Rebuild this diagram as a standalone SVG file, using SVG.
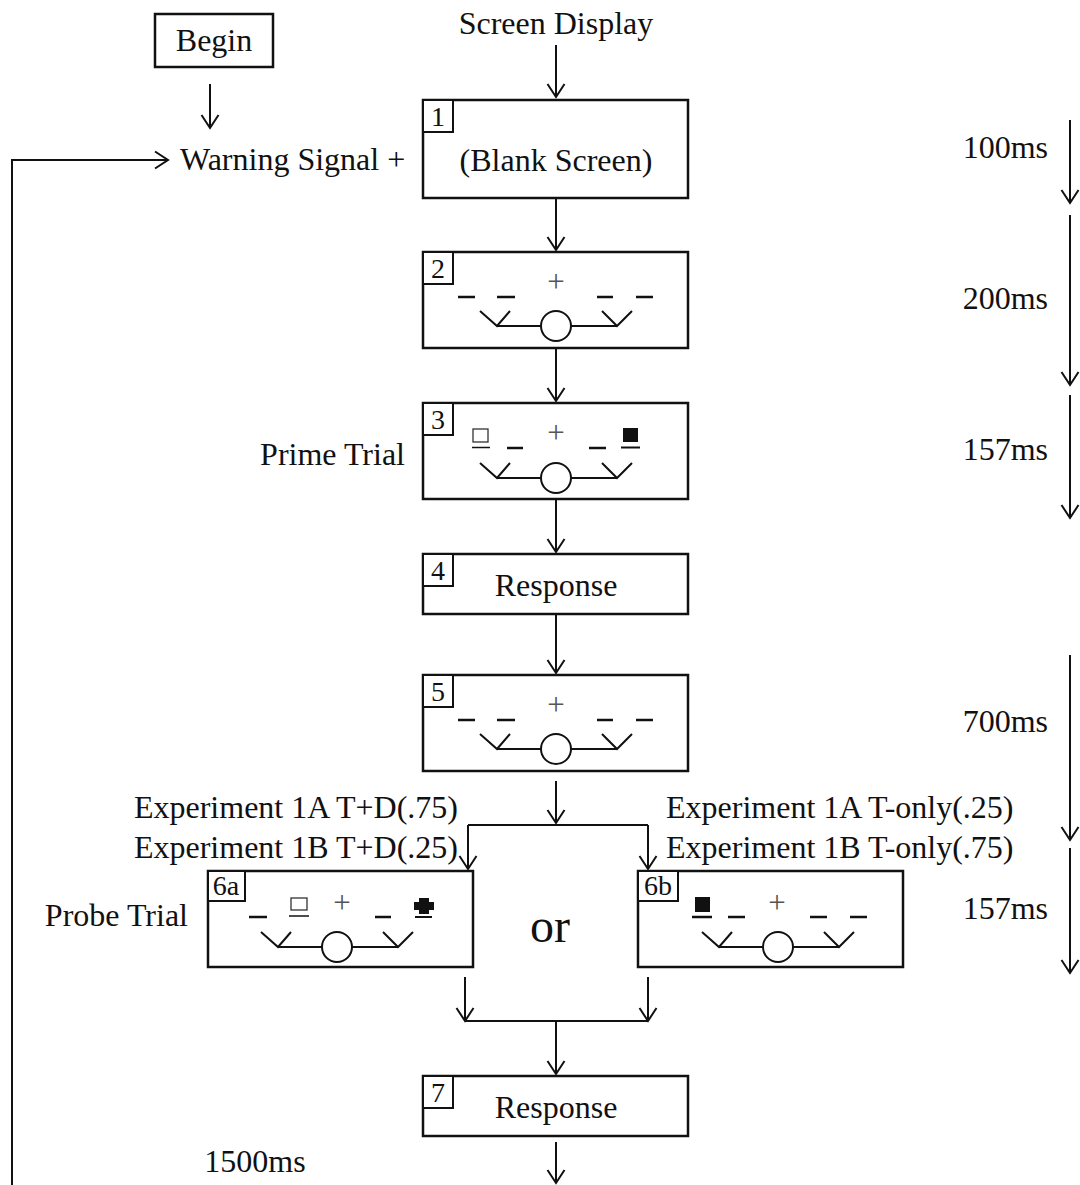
<svg xmlns="http://www.w3.org/2000/svg" width="1080" height="1185" viewBox="0 0 1080 1185">
<defs>
<style>
text{font-family:"Liberation Serif","Times New Roman",serif;fill:#111;}
.t{font-size:32px;}
.n{font-size:28px;}
.pl{font-size:31px;fill:#555;text-anchor:middle;}
.box{fill:#fff;stroke:#111;stroke-width:2.5;}
.lb{fill:#fff;stroke:#111;stroke-width:2;}
.ln{fill:none;stroke:#111;stroke-width:2;}
.ds{stroke:#111;stroke-width:2.5;}
.fl{fill:#111;}
.ho{fill:none;stroke:#333;stroke-width:1.3;}
</style>
<marker id="ah" viewBox="-15 -10 17 20" refX="0" refY="0" markerWidth="17" markerHeight="20" markerUnits="userSpaceOnUse" orient="auto">
<path d="M-13,-8.5 L0,0 L-13,8.5" fill="none" stroke="#111" stroke-width="2"/>
</marker>
<g id="face">
<path class="ln" d="M-76,-15 L-59,0 L-46,-15 M-59,0 H-15 M15,0 H61 M46,-15 L61,0 L76,-15"/>
<circle cx="0" cy="0" r="15" class="ln"/>
</g>
</defs>
<rect width="1080" height="1185" fill="#fff"/>

<g id="connectors">
<path class="ln" d="M556,45 V97" marker-end="url(#ah)"/>
<path class="ln" d="M210,84 V128" marker-end="url(#ah)"/>
<path class="ln" d="M12,1185 V160 H168" marker-end="url(#ah)"/>
<path class="ln" d="M556,198 V250" marker-end="url(#ah)"/>
<path class="ln" d="M556,348 V401" marker-end="url(#ah)"/>
<path class="ln" d="M556,499 V552" marker-end="url(#ah)"/>
<path class="ln" d="M556,614 V673" marker-end="url(#ah)"/>
<path class="ln" d="M556,781 V823"  marker-end="url(#ah)"/>
<path class="ln" d="M468,825 H648"/>
<path class="ln" d="M468,825 V869" marker-end="url(#ah)"/>
<path class="ln" d="M648,825 V869" marker-end="url(#ah)"/>
<path class="ln" d="M465,977 V1021" marker-end="url(#ah)"/>
<path class="ln" d="M648,977 V1021" marker-end="url(#ah)"/>
<path class="ln" d="M465,1021 H648"/>
<path class="ln" d="M556,1021 V1074" marker-end="url(#ah)"/>
<path class="ln" d="M556,1142 V1183" marker-end="url(#ah)"/>
<path class="ln" d="M1070,120 V203" marker-end="url(#ah)"/>
<path class="ln" d="M1070,215 V385" marker-end="url(#ah)"/>
<path class="ln" d="M1070,395 V518" marker-end="url(#ah)"/>
<path class="ln" d="M1070,655 V840" marker-end="url(#ah)"/>
<path class="ln" d="M1070,848 V973" marker-end="url(#ah)"/>
</g>

<g id="labels">
<text class="t" x="556" y="34" text-anchor="middle">Screen Display</text>
<text class="t" x="180" y="170">Warning Signal +</text>
<text class="t" x="405" y="465" text-anchor="end">Prime Trial</text>
<text class="t" x="188" y="926" text-anchor="end">Probe Trial</text>
<text class="t" x="458" y="818" text-anchor="end">Experiment 1A T+D(.75)</text>
<text class="t" x="458" y="858" text-anchor="end">Experiment 1B T+D(.25)</text>
<text class="t" x="666" y="818">Experiment 1A T-only(.25)</text>
<text class="t" x="666" y="858">Experiment 1B T-only(.75)</text>
<text x="550" y="942" text-anchor="middle" font-size="48">or</text>
<text class="t" x="1048" y="158" text-anchor="end">100ms</text>
<text class="t" x="1048" y="309" text-anchor="end">200ms</text>
<text class="t" x="1048" y="460" text-anchor="end">157ms</text>
<text class="t" x="1048" y="732" text-anchor="end">700ms</text>
<text class="t" x="1048" y="919" text-anchor="end">157ms</text>
<text class="t" x="255" y="1172" text-anchor="middle">1500ms</text>
</g>

<g id="begin">
<rect class="box" x="155" y="14" width="118" height="53"/>
<text class="t" x="214" y="51" text-anchor="middle">Begin</text>
</g>

<g id="node1">
<rect class="box" x="423" y="100" width="265" height="98"/>
<rect class="lb" x="423" y="100" width="30" height="32"/>
<text class="n" x="438" y="126" text-anchor="middle">1</text>
<text class="t" x="556" y="171" text-anchor="middle">(Blank Screen)</text>
</g>

<g id="node2">
<rect class="box" x="423" y="252" width="265" height="96"/>
<rect class="lb" x="423" y="252" width="30" height="32"/>
<text class="n" x="438" y="278" text-anchor="middle">2</text>
<text class="pl" x="556" y="292">+</text>
<path class="ds" d="M458,297 H475 M497,297 H515 M597,297 H613 M636,297 H653"/>
<use href="#face" x="556" y="326"/>
</g>

<g id="node3">
<rect class="box" x="423" y="403" width="265" height="96"/>
<rect class="lb" x="423" y="403" width="30" height="32"/>
<text class="n" x="438" y="429" text-anchor="middle">3</text>
<text class="pl" x="556" y="443">+</text>
<rect class="ho" x="473" y="429" width="15" height="13"/>
<path class="ds" d="M472,447.5 H490" style="stroke-width:1.5"/>
<path class="ds" d="M507,448 H523 M589,448 H606"/>
<rect class="fl" x="623" y="428" width="15" height="14"/>
<path class="ds" d="M621,447.5 H640" style="stroke-width:2"/>
<use href="#face" x="556" y="478"/>
</g>

<g id="node4">
<rect class="box" x="423" y="554" width="265" height="60"/>
<rect class="lb" x="423" y="554" width="30" height="32"/>
<text class="n" x="438" y="580" text-anchor="middle">4</text>
<text class="t" x="556" y="596" text-anchor="middle">Response</text>
</g>

<g id="node5">
<rect class="box" x="423" y="675" width="265" height="96"/>
<rect class="lb" x="423" y="675" width="30" height="32"/>
<text class="n" x="438" y="701" text-anchor="middle">5</text>
<text class="pl" x="556" y="715">+</text>
<path class="ds" d="M458,720 H475 M497,720 H515 M597,720 H613 M636,720 H653"/>
<use href="#face" x="556" y="749"/>
</g>

<g id="node6a">
<rect class="box" x="208" y="871" width="265" height="96"/>
<rect class="lb" x="208" y="871" width="37" height="30"/>
<text class="n" x="226" y="895" text-anchor="middle">6a</text>
<text class="pl" x="342" y="913">+</text>
<path class="ds" d="M249,917 H267 M375,917 H391"/>
<rect class="ho" x="291" y="898" width="16" height="12"/>
<path class="ds" d="M289,916 H309" style="stroke-width:1.5"/>
<path class="fl" d="M419,898 H429 V902 H434 V910 H429 V914 H419 V910 H414 V902 H419 Z"/>
<path class="ds" d="M415,917 H432" style="stroke-width:2"/>
<use href="#face" x="337" y="947"/>
</g>

<g id="node6b">
<rect class="box" x="638" y="871" width="265" height="96"/>
<rect class="lb" x="638" y="871" width="40" height="30"/>
<text class="n" x="658" y="895" text-anchor="middle">6b</text>
<text class="pl" x="777" y="913">+</text>
<rect class="fl" x="695" y="897" width="15" height="15"/>
<path class="ds" d="M692,917 H712 M728,917 H745 M810,917 H827 M850,917 H867"/>
<use href="#face" x="778" y="947"/>
</g>

<g id="node7">
<rect class="box" x="423" y="1076" width="265" height="60"/>
<rect class="lb" x="423" y="1076" width="30" height="32"/>
<text class="n" x="438" y="1102" text-anchor="middle">7</text>
<text class="t" x="556" y="1118" text-anchor="middle">Response</text>
</g>
</svg>
